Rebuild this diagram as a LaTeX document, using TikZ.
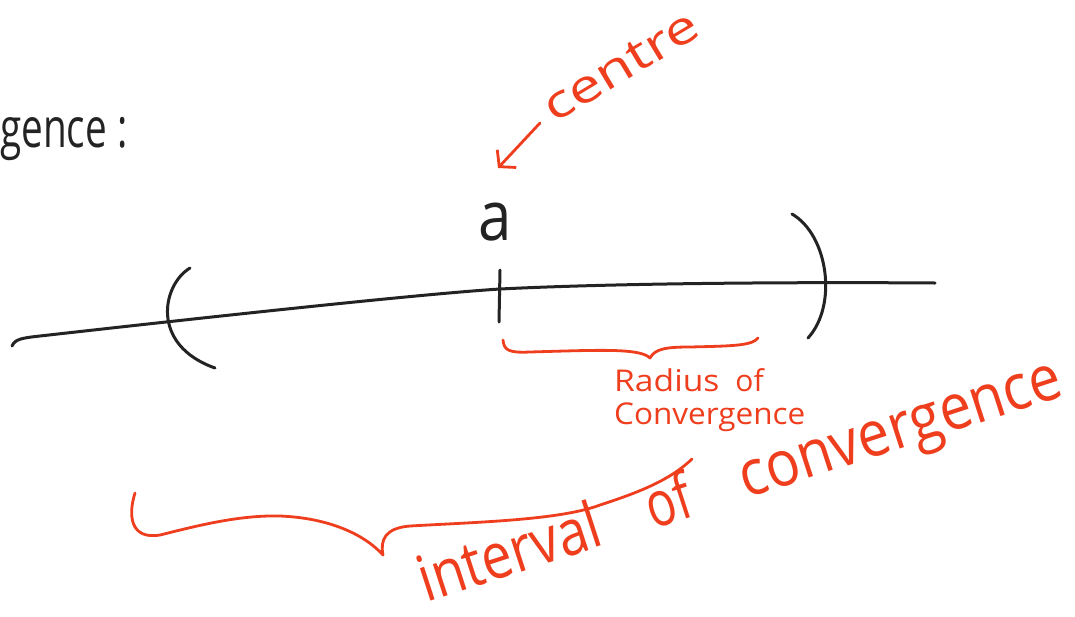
\documentclass[tikz,border=0pt]{standalone}
\usepackage{fontspec}
\setmainfont{Open Sans}
\usetikzlibrary{arrows.meta}
\definecolor{handred}{RGB}{238,62,30}
\definecolor{ink}{RGB}{35,35,35}
\tikzset{
  inkline/.style={draw=ink,line width=3pt,line cap=round,line join=round},
  redline/.style={draw=handred,line width=2.8pt,line cap=round,line join=round},
  inktext/.style={text=ink,inner sep=0pt},
  redtext/.style={text=handred,inner sep=0pt}
}
\begin{document}
\begin{tikzpicture}[x=1pt,y=-1pt]
\useasboundingbox (0,0) rectangle (1075,616);
% heading fragment
\node[inktext,anchor=base west,font=\fontsize{44}{48}\selectfont] (head) at (0,147) {\scalebox{0.88}[1.25]{gence\hspace{12pt}:}};
% axis
\draw[inkline] (12,346) .. controls (15,339) and (22,338) .. (40,336)
  .. controls (200,318) and (420,294) .. (500,289)
  .. controls (620,283) and (800,282) .. (935,283);
% parentheses
\draw[inkline] (190,268) .. controls (162,285) and (150,345) .. (215,368);
\draw[inkline] (792,214) .. controls (828,235) and (838,305) .. (808,338);
% centre tick
\draw[inkline] (500,270) -- (499,322);
\node[inktext,font=\fontsize{60}{64}\selectfont] (a) at (495,222) {\scalebox{1}[1.15]{a}};
% centre label and arrow
\node[redtext,anchor=base west,rotate=31,font=\fontsize{46}{50}\selectfont] (centre) at (554,124) {\scalebox{1.28}[1.0]{centre}};
\coordinate (arrowstart) at (540,123);
\coordinate (arrowend) at (498,168);
\draw[redline,-{Straight Barb[length=11pt,width=26pt,line width=2.8pt]}] (arrowstart) -- (arrowend);
% radius brace
\draw[redline] (503,340) .. controls (504,350) and (508,353) .. (530,352)
  .. controls (600,350) and (640,348) .. (650,358)
  .. controls (655,349) and (665,347) .. (690,347)
  .. controls (730,346) and (752,346) .. (758,338);
\node[redtext,anchor=west,font=\fontsize{30}{33}\selectfont,align=left] (radius) at (614,400) {\scalebox{1.12}[1]{Radius}\hspace{16pt}of\\\scalebox{1.05}[1]{Convergence}};
% interval brace
\draw[redline] (135,493) .. controls (128,515) and (130,540) .. (160,535)
  .. controls (200,525) and (240,515) .. (280,516)
  .. controls (330,518) and (365,535) .. (383,555)
  .. controls (380,540) and (385,528) .. (410,526)
  .. controls (480,522) and (560,520) .. (600,505)
  .. controls (640,492) and (670,480) .. (692,459);
\node[redtext,anchor=base west,rotate=18,font=\fontsize{54}{58}\selectfont] (interval) at (426,603) {\scalebox{1}[1.18]{interval}\hspace{50pt}\scalebox{0.9}[1.18]{of}\hspace{52pt}\scalebox{1.05}[1.18]{convergence}};
\end{tikzpicture}
\end{document}
